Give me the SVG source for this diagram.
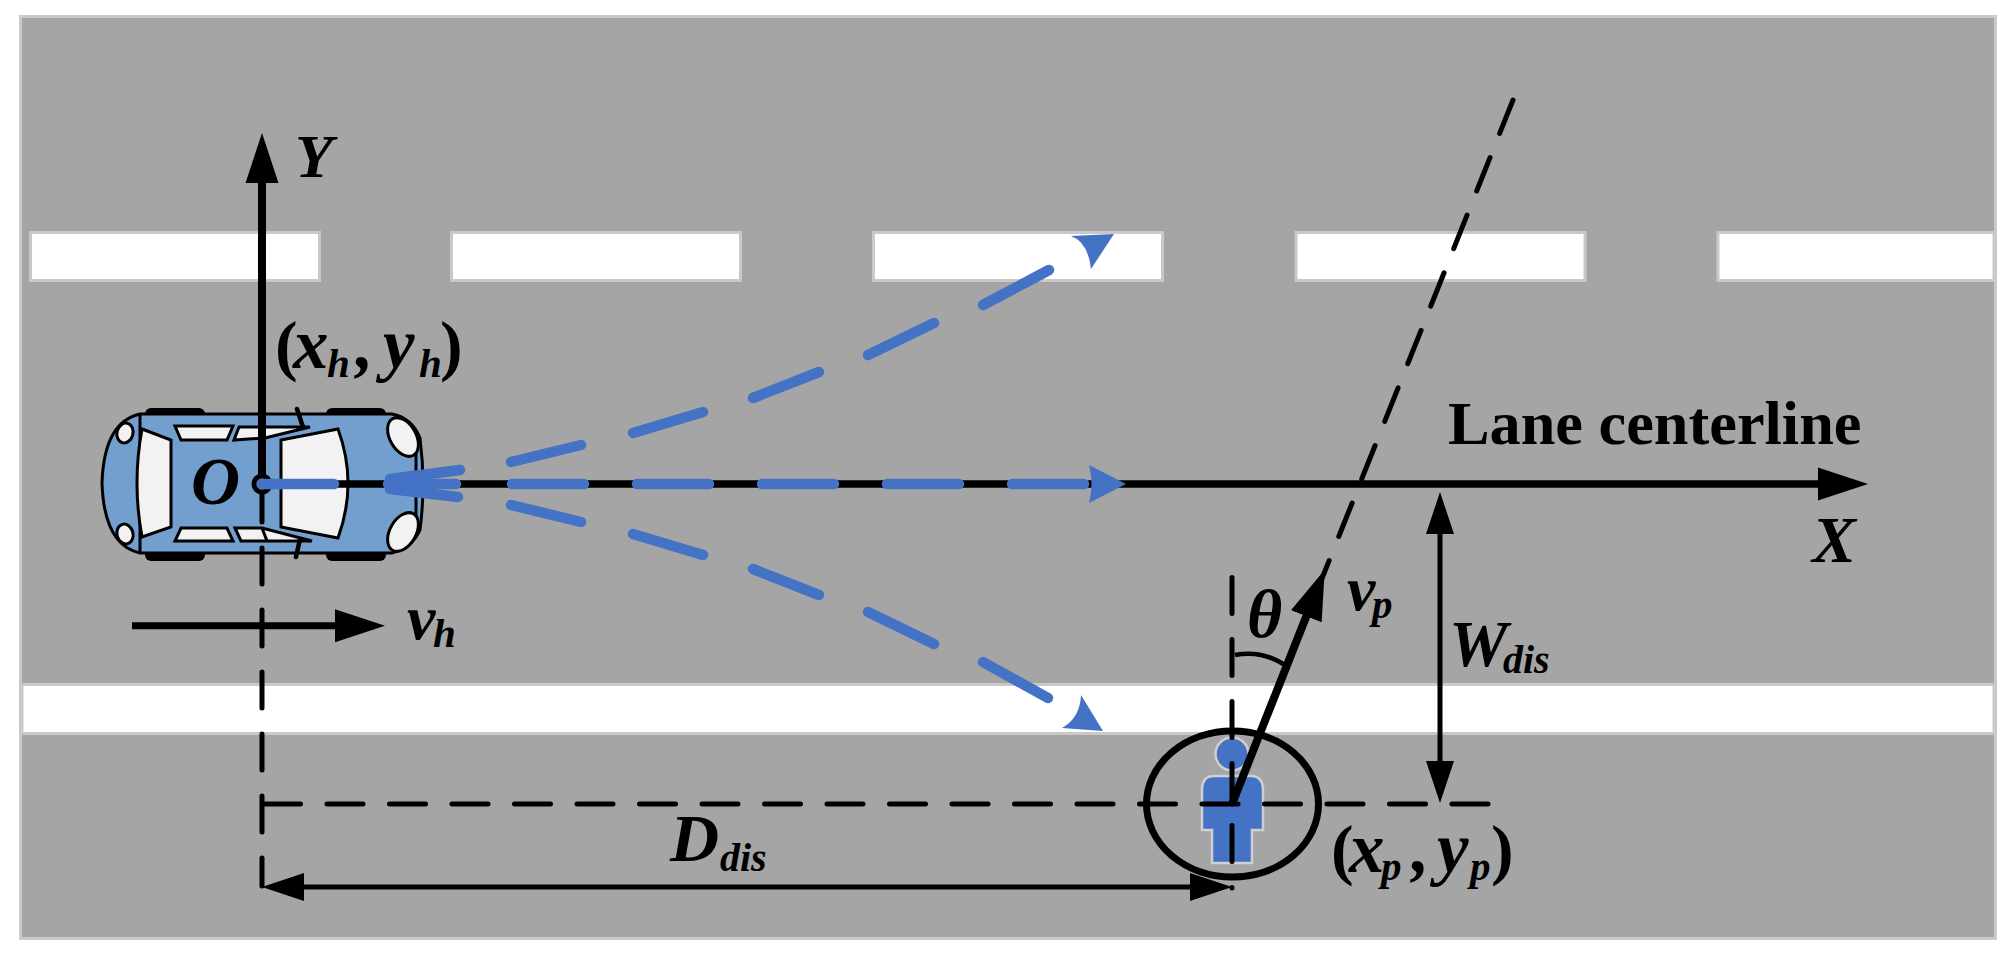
<svg xmlns="http://www.w3.org/2000/svg" width="2014" height="960" viewBox="0 0 2014 960">
<style>
text{font-family:"Liberation Serif","Times New Roman",serif;font-weight:bold;font-style:italic;font-size:62px;fill:#000}
.upright{font-style:normal;font-size:62.3px}
.paren{font-style:normal;font-size:68px}
.big{font-size:66px}
.coord{font-size:71px}
.sub{font-size:41px}
.mark{fill:#fff;stroke:#c9c9c9;stroke-width:3}
.ln{fill:none;stroke:#000;stroke-linecap:butt}
.dash{fill:none;stroke:#000;stroke-width:5;stroke-linecap:round;stroke-dasharray:36 26}
.blue{fill:none;stroke:#4472c4;stroke-width:10.5;stroke-linecap:round}
.bh{fill:#4472c4}
.c{stroke:#000;stroke-width:3}
.g{fill:#f2f2f2}
.b{fill:#739fce}
</style>
<defs>
<marker id="big" markerUnits="userSpaceOnUse" markerWidth="60" markerHeight="40" viewBox="0 -20 60 40" refX="10" refY="0" orient="auto-start-reverse"><path d="M0 -16.5L50 0L0 16.5Z" fill="#000"/></marker>
<marker id="thin" markerUnits="userSpaceOnUse" markerWidth="50" markerHeight="34" viewBox="0 -17 50 34" refX="10" refY="0" orient="auto-start-reverse"><path d="M0 -14L42 0L0 14Z" fill="#000"/></marker>
</defs>
<g id="road">
<rect x="20.5" y="16.5" width="1975" height="922" fill="#a5a5a5" stroke="#c9c9c9" stroke-width="3"/>
<rect class="mark" x="30.5" y="232.5" width="289" height="48"/>
<rect class="mark" x="451.5" y="232.5" width="289" height="48"/>
<rect class="mark" x="873.5" y="232.5" width="289" height="48"/>
<rect class="mark" x="1296" y="232.5" width="289" height="48"/>
<rect class="mark" x="1718" y="232.5" width="276" height="48"/>
<rect class="mark" x="22" y="684.5" width="1972" height="49"/>
</g>
<g id="car">
<g fill="#000">
<rect x="145" y="408" width="60" height="14" rx="6"/><rect x="326" y="408" width="60" height="14" rx="6"/>
<rect x="145" y="546" width="60" height="15" rx="6"/><rect x="326" y="546" width="60" height="15" rx="6"/>
</g>
<path class="b c" d="M140 414H392Q412 418 420 438Q426 484 420 530Q412 548 392 553H140Q104 545 102 483Q104 422 140 414Z"/>
<path class="c" fill="none" d="M140 414V553M416 436V535"/>
<path class="g c" d="M142 429L171 440V527L142 537Q132 483 142 429Z"/>
<ellipse class="g c" cx="125" cy="433" rx="8" ry="10" transform="rotate(15 125 433)"/>
<ellipse class="g c" cx="125" cy="534" rx="8" ry="10" transform="rotate(-15 125 534)"/>
<path class="g c" d="M175 426H233L227 440H181Z"/>
<path class="g c" d="M239 427H310L265 438L234 440Z"/>
<path class="g c" d="M181 528H227L233 541H175Z"/>
<path class="g c" d="M235 528H262L312 541H241Z"/>
<path class="c" fill="none" d="M262 528L267 541"/>
<path fill="none" stroke="#000" stroke-width="4.5" stroke-linecap="round" d="M297 409L303 427M300 539L296 557"/>
<path class="g c" d="M281 440L338 429Q358 483 338 538L281 527Z"/>
<ellipse class="g c" cx="403" cy="437" rx="13" ry="21" transform="rotate(-30 403 437)"/>
<ellipse class="g c" cx="403" cy="532" rx="13" ry="21" transform="rotate(30 403 532)"/>
</g>
<g id="pedestrian">
<circle cx="1232" cy="754" r="16.5" fill="#4472c4" stroke="#d0d0d0" stroke-width="2.5"/>
<path fill="#4472c4" stroke="#d0d0d0" stroke-width="2.5" d="M1202 790Q1202 776 1214 776H1251Q1263 776 1263 790V830H1252V863H1212V830H1202Z"/>
</g>
<g id="connectors">
<path class="dash" d="M262 486V886"/>
<path class="dash" style="stroke-dasharray:36 26.5" d="M1488 804H262"/>
<path class="dash" d="M1232 577.5V888"/>
<path class="dash" d="M1513 100L1232 804"/>
<path class="ln" stroke-width="8" marker-end="url(#big)" d="M262 484V173"/>
<path class="ln" stroke-width="7.5" marker-end="url(#big)" d="M262 484H1828"/>
<path class="ln" stroke-width="7" stroke-linecap="round" marker-end="url(#big)" d="M132 625.7H345"/>
<path class="ln" stroke-width="8" marker-end="url(#big)" d="M1232 804L1310 607"/>
<path class="ln" stroke-width="5" marker-start="url(#thin)" marker-end="url(#thin)" d="M1440 524V771"/>
<path class="ln" stroke-width="5" marker-start="url(#thin)" marker-end="url(#thin)" d="M294 887H1200"/>
<path class="ln" stroke-width="4.5" d="M1235 655Q1262 650 1285 665"/>
<ellipse cx="1232.5" cy="804" rx="86" ry="73" fill="none" stroke="#000" stroke-width="7"/>
<circle cx="262" cy="484" r="8" fill="#a5a5a5" stroke="#000" stroke-width="5"/>
</g>
<g id="trajectories">
<path class="blue" d="M262 484H334M388 484H456M512 484H584M637 484H709M762 484H834M887 484H959M1012 484H1084"/>
<path class="blue" d="M390 479L460 470M390 489L458 497"/>
<path class="blue" d="M511 462L581 445M633 433L703 412M753 398L819 372M868 355L934 323M983 305L1049 270"/>
<path class="blue" d="M511 505L581 522M633 534L703 555M753 569L819 595M868 612L934 644M983 662L1048 698"/>
<path class="bh" d="M1126 484L1089 465Q1094 484 1089 503Z"/>
<path class="bh" d="M1071 236L1114 234L1091 269Q1088 242 1071 236Z"/>
<path class="bh" d="M1081 695L1103 731L1062 728Q1080 718 1081 695Z"/>
</g>
<g id="labels">
<text x="295" y="177">Y</text>
<text x="191" y="504" style="font-size:68px">O</text>
<text class="coord" y="368"><tspan class="paren" x="275">(</tspan><tspan x="293">x</tspan><tspan class="sub" x="327" y="377">h</tspan><tspan x="338" y="368"> , </tspan><tspan x="383">y</tspan><tspan class="sub" x="419" y="377">h</tspan><tspan class="paren" x="440" y="368">)</tspan></text>
<text x="407" y="639" style="font-size:64px">v<tspan class="sub" x="433" y="647">h</tspan></text>
<text class="upright" x="1448" y="444">Lane centerline</text>
<text class="big" x="1812" y="562">X</text>
<text x="1247" y="637" style="font-size:68px">θ</text>
<text x="1347" y="610" style="font-size:64px">v<tspan class="sub" x="1372" y="618">p</tspan></text>
<text class="big" x="1449" y="666">W<tspan class="sub" style="font-size:40px" x="1503" y="673">dis</tspan></text>
<text x="670" y="861" style="font-size:68px">D<tspan class="sub" style="font-size:40px" x="720" y="871">dis</tspan></text>
<text class="coord" y="872"><tspan class="paren" x="1331">(</tspan><tspan x="1349">x</tspan><tspan class="sub" x="1381" y="880">p</tspan><tspan x="1394" y="872"> , </tspan><tspan x="1437">y</tspan><tspan class="sub" x="1470" y="880">p</tspan><tspan class="paren" x="1491" y="872">)</tspan></text>
</g>
</svg>
